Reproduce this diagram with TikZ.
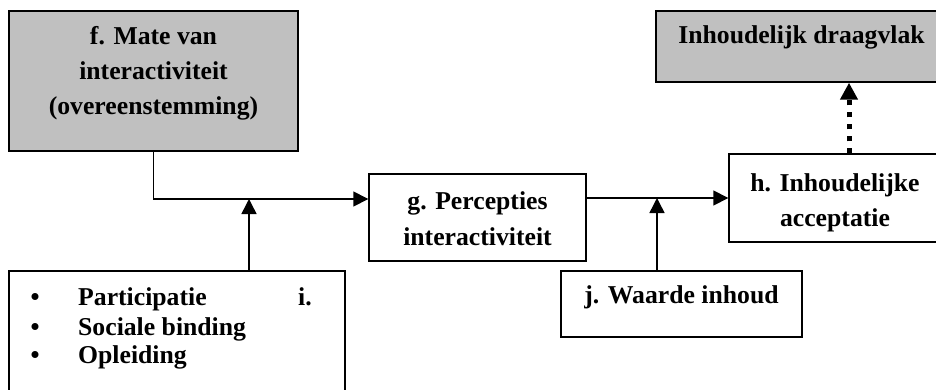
\documentclass[tikz,border=0pt]{standalone}
\usepackage{fontspec}
\setmainfont{Liberation Serif}
\usetikzlibrary{arrows.meta}
\definecolor{boxgray}{HTML}{C0C0C0}
\begin{document}
\begin{tikzpicture}[x=1pt,y=-1pt,
  box/.style={draw=black,line width=1.4pt,rectangle,inner sep=0pt},
  shaded/.style={box,fill=boxgray},
  txt/.style={font=\fontsize{25.7}{30}\selectfont\bfseries,anchor=base,inner sep=0pt},
  ltxt/.style={txt,anchor=base west},
  arr/.style={line width=1.5pt,-{Triangle[length=15pt,width=15pt]}},
  dotarr/.style={line width=5pt,dash pattern=on 5pt off 7pt,-{Triangle[length=17pt,width=17pt]}}
]
\useasboundingbox (0,0) rectangle (936,389);
\clip (0,0) rectangle (936,389);
% boxes
\node[shaded,minimum width=289pt,minimum height=140pt] (f) at (153.5,81) {};
\node[box,minimum width=217pt,minimum height=87pt] (g) at (477.5,217.5) {};
\node[box,minimum width=212pt,minimum height=88pt] (h) at (835,198) {};
\node[shaded,minimum width=291pt,minimum height=71pt] (d) at (801.5,46.5) {};
\node[box,minimum width=336pt,minimum height=140pt] (i) at (177,341) {};
\node[box,minimum width=241pt,minimum height=66pt] (j) at (681.5,304) {};
% texts
\node[txt] (f1) at (153.5,44) {f. Mate van};
\node[txt] (f2) at (153.5,79) {interactiviteit};
\node[txt] (f3) at (153.5,114) {(overeenstemming)};
\node[txt] (g1) at (477.5,209) {g. Percepties};
\node[txt] (g2) at (477.5,245) {interactiviteit};
\node[txt] (h1) at (835,191) {h. Inhoudelijke};
\node[txt] (h2) at (835,226) {acceptatie};
\node[txt] (d1) at (801.5,43) {Inhoudelijk draagvlak};
\node[txt] (j1) at (681.5,303) {j. Waarde inhoud};
\node[txt] (b1) at (35,305) {•};
\node[txt] (b2) at (35,335) {•};
\node[txt] (b3) at (35,363) {•};
\node[ltxt] (i1) at (78,305) {Participatie};
\node[ltxt] (i2) at (78,335) {Sociale binding};
\node[ltxt] (i3) at (78,363) {Opleiding};
\node[ltxt] (il) at (298,305) {i.};
% connector helpers
\coordinate (m1) at (249,199);
\coordinate (m2) at (657,198);
\coordinate (dx) at (849,0);
% connectors
\draw[line width=1.5pt] (f.south) |- (m1);
\draw[arr] (m1) -- (m1 -| g.west);
\draw[arr] (i.north -| m1) -- (m1);
\draw[arr] (g.east |- m2) -- (m2 -| h.west);
\draw[arr] (j.north -| m2) -- (m2);
\draw[dotarr] (h.north -| dx) -- (d.south -| dx);
\end{tikzpicture}
\end{document}
